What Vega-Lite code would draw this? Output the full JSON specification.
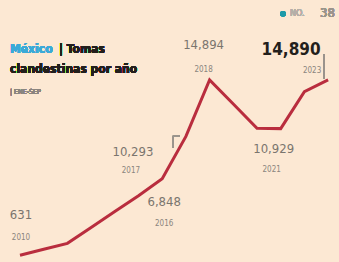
{
  "$schema": "https://vega.github.io/schema/vega-lite/v6.json",
  "width": 339,
  "height": 262,
  "autosize": {"type": "fit", "contains": "padding"},
  "padding": 0,
  "background": "#FCE8D3",
  "config": {"view": {"stroke": null}, "text": {"font": "DejaVu Sans Condensed, Roboto, sans-serif"}},
  "data": {"values": [
    {"year": 2010, "tomas": 631},
    {"year": 2011, "tomas": 1112},
    {"year": 2012, "tomas": 1593},
    {"year": 2013, "tomas": 2891},
    {"year": 2014, "tomas": 4181},
    {"year": 2015, "tomas": 5471},
    {"year": 2016, "tomas": 6848},
    {"year": 2017, "tomas": 10293},
    {"year": 2018, "tomas": 14894},
    {"year": 2019, "tomas": 12931},
    {"year": 2020, "tomas": 10960},
    {"year": 2021, "tomas": 10929},
    {"year": 2022, "tomas": 13932},
    {"year": 2023, "tomas": 14890}
  ]},
  "encoding": {
    "x": {"field": "year", "type": "quantitative", "axis": null, "scale": {"domain": [2009.156, 2023.46], "nice": false, "zero": false}},
    "y": {"field": "tomas", "type": "quantitative", "axis": null, "scale": {"domain": [401, 21394], "nice": false, "zero": false}}
  },
  "layer": [
    {"mark": {"type": "line", "color": "#B92D3E", "strokeWidth": 3, "strokeJoin": "miter"}},
    {"transform": [{"filter": "datum.year == 2010"}], "mark": {"type": "text", "dx": 1, "dy": -40, "fontSize": 13, "color": "#7A756E"}, "encoding": {"text": {"field": "tomas", "format": ","}}},
    {"transform": [{"filter": "datum.year == 2010"}], "mark": {"type": "text", "dx": 1, "dy": -17, "fontSize": 8, "color": "#8A857E"}, "encoding": {"text": {"field": "year"}}},
    {"transform": [{"filter": "datum.year == 2016"}], "mark": {"type": "text", "dx": 2, "dy": 23, "fontSize": 13, "color": "#7A756E"}, "encoding": {"text": {"field": "tomas", "format": ","}}},
    {"transform": [{"filter": "datum.year == 2016"}], "mark": {"type": "text", "dx": 2, "dy": 45, "fontSize": 8, "color": "#8A857E"}, "encoding": {"text": {"field": "year"}}},
    {"transform": [{"filter": "datum.year == 2017"}], "mark": {"type": "text", "dx": -53, "dy": 16, "fontSize": 13, "color": "#7A756E"}, "encoding": {"text": {"field": "tomas", "format": ","}}},
    {"transform": [{"filter": "datum.year == 2017"}], "mark": {"type": "text", "dx": -55, "dy": 35, "fontSize": 8, "color": "#8A857E"}, "encoding": {"text": {"field": "year"}}},
    {"transform": [{"filter": "datum.year == 2018"}], "mark": {"type": "text", "dx": -6, "dy": -35, "fontSize": 13, "color": "#7A756E"}, "encoding": {"text": {"field": "tomas", "format": ","}}},
    {"transform": [{"filter": "datum.year == 2018"}], "mark": {"type": "text", "dx": -6, "dy": -10, "fontSize": 8, "color": "#8A857E"}, "encoding": {"text": {"field": "year"}}},
    {"transform": [{"filter": "datum.year == 2021"}], "mark": {"type": "text", "dx": -7, "dy": 20, "fontSize": 13, "color": "#7A756E"}, "encoding": {"text": {"field": "tomas", "format": ","}}},
    {"transform": [{"filter": "datum.year == 2021"}], "mark": {"type": "text", "dx": -9, "dy": 41, "fontSize": 8, "color": "#8A857E"}, "encoding": {"text": {"field": "year"}}},
    {"transform": [{"filter": "datum.year == 2023"}], "mark": {"type": "text", "dx": -37, "dy": -30, "fontSize": 17, "fontWeight": "bold", "color": "#231F1C"}, "encoding": {"text": {"field": "tomas", "format": ","}}},
    {"transform": [{"filter": "datum.year == 2023"}], "mark": {"type": "text", "dx": -16, "dy": -9, "fontSize": 8, "color": "#8A857E"}, "encoding": {"text": {"field": "year"}}},
    {"mark": {"type": "rule", "color": "#9A948C", "strokeWidth": 1}, "encoding": {"x": {"datum": 2022.83}, "y": {"datum": 14984}, "y2": {"datum": 16988}}},
    {"mark": {"type": "rule", "color": "#9A948C", "strokeWidth": 1}, "encoding": {"x": {"datum": 2016.456}, "y": {"datum": 9375}, "y2": {"datum": 10337}}},
    {"mark": {"type": "rule", "color": "#9A948C", "strokeWidth": 1}, "encoding": {"x": {"datum": 2016.456}, "x2": {"datum": 2016.75}, "y": {"datum": 10337}}},
    {"mark": {"type": "text", "align": "left", "fontSize": 12, "fontWeight": "bold", "color": "#3BAAD9"}, "encoding": {"x": {"datum": 2009.578}, "y": {"datum": 17388}, "text": {"value": "México"}}},
    {"mark": {"type": "text", "align": "left", "fontSize": 12, "fontWeight": "bold", "color": "#231F1C"}, "encoding": {"x": {"datum": 2011.645}, "y": {"datum": 17388}, "text": {"value": "| Tomas"}}},
    {"mark": {"type": "text", "align": "left", "fontSize": 12, "fontWeight": "bold", "color": "#231F1C"}, "encoding": {"x": {"datum": 2009.578}, "y": {"datum": 15786}, "text": {"value": "clandestinas por año"}}},
    {"mark": {"type": "text", "align": "left", "fontSize": 7, "color": "#8A857E"}, "encoding": {"x": {"datum": 2009.578}, "y": {"datum": 13943}, "text": {"value": "| ENE-SEP"}}},
    {"mark": {"type": "point", "filled": true, "size": 30, "opacity": 1, "color": "#1E9AA8"}, "encoding": {"x": {"datum": 2021.097}, "y": {"datum": 20273}}},
    {"mark": {"type": "text", "align": "left", "fontSize": 9, "color": "#B5AFA8"}, "encoding": {"x": {"datum": 2021.392}, "y": {"datum": 20353}, "text": {"value": "NO."}}},
    {"mark": {"type": "text", "align": "left", "fontSize": 13, "color": "#9B948C"}, "encoding": {"x": {"datum": 2022.66}, "y": {"datum": 20353}, "text": {"value": "38"}}}
  ]
}
